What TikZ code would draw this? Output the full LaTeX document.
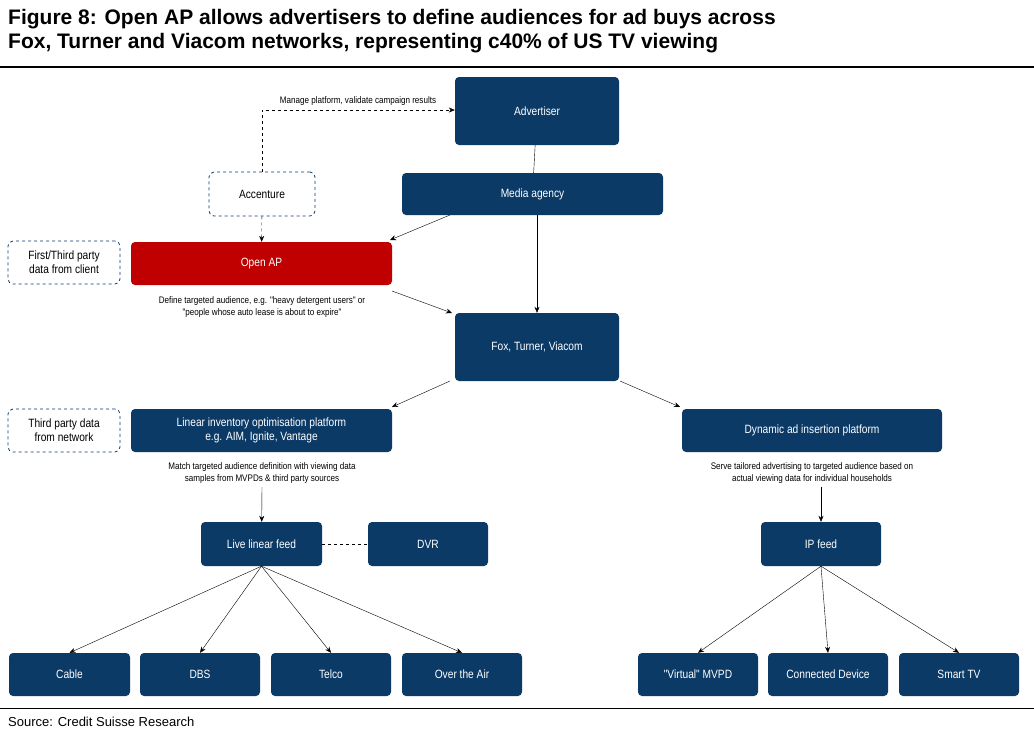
\documentclass[tikz,border=0pt]{standalone}
\usepackage{fontspec}
\setmainfont{Liberation Sans}
\newfontfamily\narrowfont[FakeStretch=0.85]{Liberation Sans}
\usetikzlibrary{arrows.meta}
\definecolor{navy}{HTML}{0B3A66}
\definecolor{redap}{HTML}{C00000}
\begin{document}
\begin{tikzpicture}[x=1pt,y=-1pt,
  bx/.style={fill=navy,rounded corners=4pt,text=white,font=\narrowfont\fontsize{12}{14}\selectfont,align=center,inner sep=0pt},
  dbx/.style={draw=navy,dashed,rounded corners=5pt,fill=white,font=\narrowfont\fontsize{12}{14}\selectfont,align=center,inner sep=0pt,thick},
  note/.style={font=\narrowfont\fontsize{9.5}{11.5}\selectfont,align=center},
  arr/.style={-{Stealth[length=6pt,width=5pt]},thin},
  ln/.style={thin}]
\useasboundingbox (0,0) rectangle (1034,745);
\node[anchor=north west,font=\bfseries\fontsize{21}{24}\selectfont,align=left,inner sep=0pt] (title) at (8,9) {Figure 8: Open AP allows advertisers to define audiences for ad buys across\\Fox, Turner and Viacom networks, representing c40\% of US TV viewing};
\draw[line width=1.2pt] (0,67) -- (1034,67);
\draw[line width=0.5pt] (0,708) -- (1034,708);
\node[anchor=west,font=\fontsize{13}{15}\selectfont,inner sep=0pt] (src) at (8,722) {Source: Credit Suisse Research};

\newcommand{\bbox}[6]{\node[#1,minimum width=#4-#2,minimum height=#5-#3] (#6) at ({(#2+#4)/2},{(#3+#5)/2})}
\bbox{bx}{455}{77}{619}{145}{adv} {Advertiser};
\bbox{bx}{402}{173}{663}{215}{media} {Media agency};
\bbox{dbx}{209}{172}{315}{216}{acc} {Accenture};
\bbox{dbx}{8}{241}{120}{284}{ftp} {First/Third party\\data from client};
\bbox{bx,fill=redap}{131}{242}{392}{285}{oap} {Open AP};
\bbox{bx}{455}{313}{619}{381}{fox} {Fox, Turner, Viacom};
\bbox{dbx}{8}{409}{120}{452}{tpn} {Third party data\\from network};
\bbox{bx}{131}{409}{392}{452}{lin} {Linear inventory optimisation platform\\e.g. AIM, Ignite, Vantage};
\bbox{bx}{682}{409}{942}{452}{dyn} {Dynamic ad insertion platform};
\bbox{bx}{201}{522}{322}{566}{live} {Live linear feed};
\bbox{bx}{368}{522}{488}{566}{dvr} {DVR};
\bbox{bx}{761}{522}{881}{566}{ip} {IP feed};
\bbox{bx}{9}{653}{130}{696}{cable} {Cable};
\bbox{bx}{140}{653}{260}{696}{dbs} {DBS};
\bbox{bx}{271}{653}{391}{696}{telco} {Telco};
\bbox{bx}{402}{653}{522}{696}{ota} {Over the Air};
\bbox{bx}{638}{653}{758}{696}{vm} {"Virtual" MVPD};
\bbox{bx}{768}{653}{888}{696}{cd} {Connected Device};
\bbox{bx}{899}{653}{1019}{696}{stv} {Smart TV};

\node[note] (n1) at (358,101) {Manage platform, validate campaign results};
\node[note] (n2) at (262,307) {Define targeted audience, e.g. "heavy detergent users" or\\"people whose auto lease is about to expire"};
\node[note] (n3) at (262,473) {Match targeted audience definition with viewing data\\samples from MVPDs \& third party sources};
\node[note] (n4) at (812,473) {Serve tailored advertising to targeted audience based on\\actual viewing data for individual households};

\draw[ln] (adv) -- (media);
\draw[arr] (media.south -| 537,0) -- (fox);
\draw[arr] (450,215) -- (390,240);
\draw[arr] (392,291) -- (452,313);
\draw[arr,dashed] (acc) -- (oap);
\draw[arr,dashed] (acc.north) -- (262,110) -- (adv.west |- 0,110);
\draw[arr] (450,381) -- (392,407);
\draw[arr] (620,381) -- (680,407);
\draw[arr] (262,487) -- (live);
\draw[arr] (821,487) -- (ip);
\draw[ln,dashed] (live) -- (dvr);
\foreach \t in {cable,dbs,telco,ota} \draw[arr] (live.south) -- (\t.north);
\foreach \t in {vm,cd,stv} \draw[arr] (ip.south) -- (\t.north);
\end{tikzpicture}
\end{document}
